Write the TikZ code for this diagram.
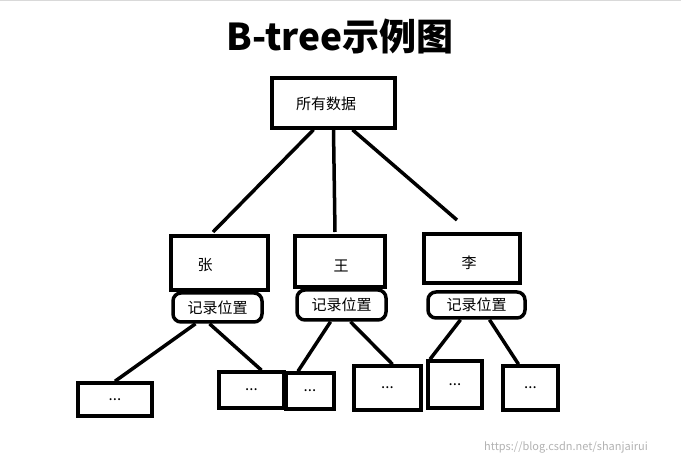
\documentclass[tikz,border=0pt]{standalone}
\usepackage{fontspec}
\setmainfont{Noto Sans CJK SC}
\begin{document}
\begin{tikzpicture}[x=1pt,y=-1pt,
  bx/.style={draw,line width=3.5pt,inner sep=0pt,font=\fontsize{15}{15}\selectfont},
  rb/.style={draw,line width=3.5pt,rounded corners=8pt,inner sep=0pt,font=\fontsize{15}{15}\selectfont},
  ln/.style={line width=3.5pt},
  tx/.style={font=\fontsize{15}{15}\selectfont}]
\useasboundingbox (0,0) rectangle (681,465);
\draw[gray!30] (0,0.5) -- (681,0.5);
\node[font=\bfseries\fontsize{37}{37}\selectfont] (t) at (340,36) {B-tree示例图};
\node[bx,minimum width=123pt,minimum height=50pt] (top) at (333.5,103) {};
\node[tx] (topt) at (326,104) {所有数据};
\node[bx,minimum width=97pt,minimum height=54pt] (z) at (219.5,263) {};
\node[tx] (zt) at (205,265) {张};
\node[bx,minimum width=90pt,minimum height=51pt] (w) at (340,261.5) {};
\node[tx] (wt) at (341,266) {王};
\node[bx,minimum width=96pt,minimum height=49pt] (l) at (472,258.5) {};
\node[tx] (lt) at (469,263) {李};
\node[rb,minimum width=89pt,minimum height=29pt] (zr) at (217.5,307.5) {记录位置};
\node[rb,minimum width=89pt,minimum height=30pt] (wr) at (341.5,305) {记录位置};
\node[rb,minimum width=97pt,minimum height=26pt] (lr) at (476.5,305) {记录位置};
\node[bx,minimum width=74pt,minimum height=33pt] (a1) at (115,399.5) {...};
\node[bx,minimum width=65pt,minimum height=36pt] (a2) at (251.5,390) {...};
\node[bx,minimum width=48pt,minimum height=36pt] (a3) at (310,391) {...};
\node[bx,minimum width=67pt,minimum height=44pt] (a4) at (387.5,388) {...};
\node[bx,minimum width=54pt,minimum height=47pt] (a5) at (455,384.5) {...};
\node[bx,minimum width=55pt,minimum height=44pt] (a6) at (530.5,388) {...};
\coordinate (e1) at (213,232);
\coordinate (e2) at (335,232);
\coordinate (e3) at (457,220);
\draw[ln] ([xshift=-20pt]top.south) -- (e1);
\draw[ln] ([xshift=0pt]top.south) -- (e2);
\draw[ln] ([xshift=19pt]top.south) -- (e3);
\draw[ln] ([xshift=-22pt]zr.south) -- (a1.north);
\draw[ln] ([xshift=-8pt]zr.south) -- ([xshift=10pt]a2.north);
\draw[ln] ([xshift=-11pt]wr.south) -- ([xshift=-12pt]a3.north);
\draw[ln] ([xshift=9pt]wr.south) -- ([xshift=5pt]a4.north);
\draw[ln] ([xshift=-16pt]lr.south) -- ([xshift=-25pt]a5.north);
\draw[ln] ([xshift=13pt]lr.south) -- ([xshift=-12pt]a6.north);
\node[gray!60,font=\fontsize{11}{11}\selectfont] (wm) at (566,447) {https://blog.csdn.net/shanjairui};
\end{tikzpicture}
\end{document}
